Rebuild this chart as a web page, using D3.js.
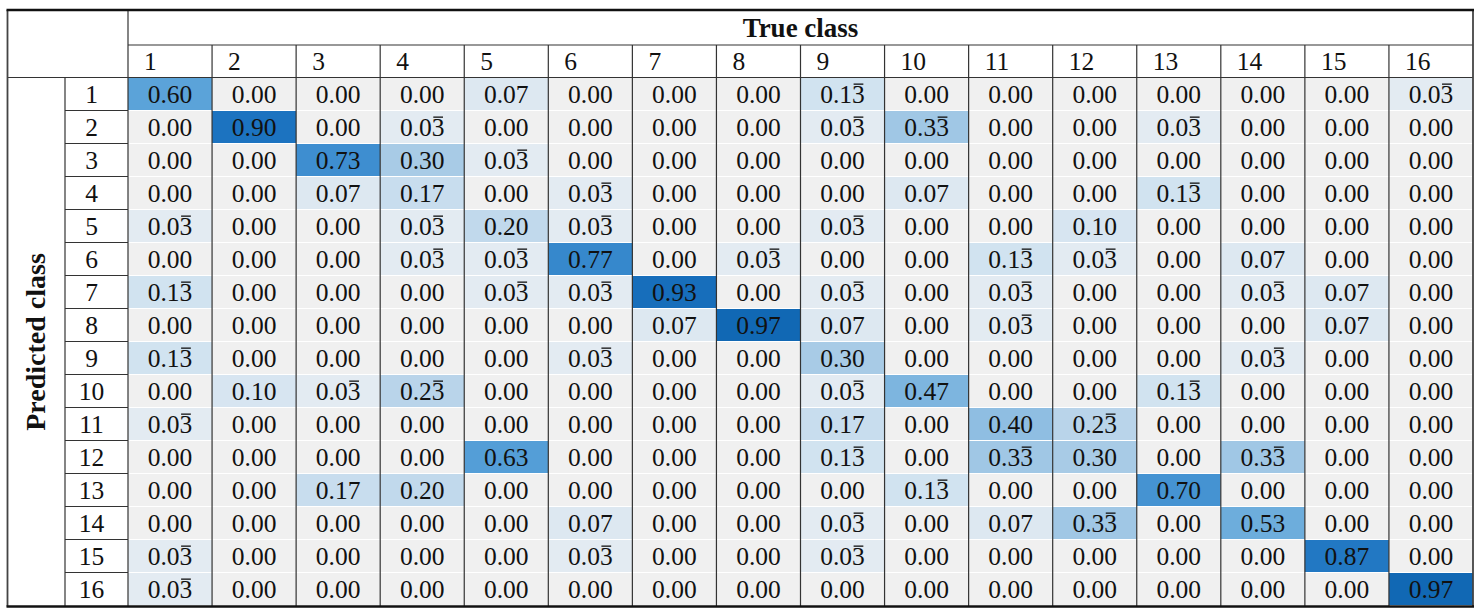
<!DOCTYPE html>
<html><head><meta charset="utf-8">
<script src="https://cdn.jsdelivr.net/npm/d3@7"></script>
<style>body{margin:0;background:#fff}</style>
</head><body>
<svg id="c" width="1479" height="613"></svg>
<script>
const classLabels = ["1","2","3","4","5","6","7","8","9","10","11","12","13","14","15","16"];
const xTitle = "True class";
const yTitle = "Predicted class";
// rows = predicted class, columns = true class; x.xx3 marks a repeating 3 (shown with an overbar)
const row1  = [0.60,0,0,0,0.07,0,0,0,0.133,0,0,0,0,0,0,0.033];
const row2  = [0,0.90,0,0.033,0,0,0,0,0.033,0.333,0,0,0.033,0,0,0];
const row3  = [0,0,0.73,0.30,0.033,0,0,0,0,0,0,0,0,0,0,0];
const row4  = [0,0,0.07,0.17,0,0.033,0,0,0,0.07,0,0,0.133,0,0,0];
const row5  = [0.033,0,0,0.033,0.20,0.033,0,0,0.033,0,0,0.10,0,0,0,0];
const row6  = [0,0,0,0.033,0.033,0.77,0,0.033,0,0,0.133,0.033,0,0.07,0,0];
const row7  = [0.133,0,0,0,0.033,0.033,0.93,0,0.033,0,0.033,0,0,0.033,0.07,0];
const row8  = [0,0,0,0,0,0,0.07,0.97,0.07,0,0.033,0,0,0,0.07,0];
const row9  = [0.133,0,0,0,0,0.033,0,0,0.30,0,0,0,0,0.033,0,0];
const row10 = [0,0.10,0.033,0.233,0,0,0,0,0.033,0.47,0,0,0.133,0,0,0];
const row11 = [0.033,0,0,0,0,0,0,0,0.17,0,0.40,0.233,0,0,0,0];
const row12 = [0,0,0,0,0.63,0,0,0,0.133,0,0.333,0.30,0,0.333,0,0];
const row13 = [0,0,0.17,0.20,0,0,0,0,0,0.133,0,0,0.70,0,0,0];
const row14 = [0,0,0,0,0,0.07,0,0,0.033,0,0.07,0.333,0,0.53,0,0];
const row15 = [0.033,0,0,0,0,0.033,0,0,0.033,0,0,0,0,0,0.87,0];
const row16 = [0.033,0,0,0,0,0,0,0,0,0,0,0,0,0,0,0.97];
const matrix = [row1,row2,row3,row4,row5,row6,row7,row8,row9,row10,row11,row12,row13,row14,row15,row16];
const colorStops = [0, 0.033, 0.13, 0.3, 0.47, 0.6, 0.73, 0.9, 0.97];
const colorRange = ["#f0f0f0","#e3ebf2","#d2e3f0","#a8cbe6","#7db5df","#5ba3d9","#3e8ed0","#1c73c0","#1168b4"];

const svg = d3.select("#c");
const font = "'Liberation Serif', 'DejaVu Serif', serif";
const L = 7.5, R = 1473, T = 10, B = 606.5, xL = 128, yH = 45, yD = 77.5, xR = 65;
const fs = 25.5;

const x = d3.scaleBand().domain(classLabels).range([xL, R]);
const y = d3.scaleBand().domain(classLabels).range([yD, B - 1]);
const color = d3.scaleLinear().domain(colorStops).range(colorRange).clamp(true);
const isRep = v => Math.round(v * 1000) % 10 === 3;

const cells = [];
matrix.forEach((row, i) => row.forEach((v, j) => cells.push({r: classLabels[i], c: classLabels[j], v})));

// cells
svg.append("g").selectAll("rect").data(cells).join("rect")
  .attr("x", d => x(d.c)).attr("y", d => y(d.r) + 0.5)
  .attr("width", x.bandwidth()).attr("height", y.bandwidth() - 1)
  .attr("fill", d => color(d.v));

const txt = svg.append("g").selectAll("text").data(cells).join("text")
  .attr("x", d => x(d.c) + x.bandwidth() / 2)
  .attr("y", d => y(d.r) + y.bandwidth() / 2 + 8.5)
  .attr("text-anchor", "middle")
  .attr("font-family", font).attr("font-size", fs).attr("fill", "#111")
  .text(d => d.v.toFixed(2));

// overbars for repeating decimals
const bars = svg.append("g").attr("stroke", "#111").attr("stroke-width", 1.3);
txt.each(function(d) {
  if (!isRep(d.v)) return;
  const n = this.getNumberOfChars();
  const s = this.getStartPositionOfChar(n - 1), e = this.getEndPositionOfChar(n - 1);
  const by = y(d.r) + y.bandwidth() / 2 + 8.5 - fs * 0.72;
  bars.append("line").attr("x1", s.x + 1.5).attr("x2", e.x - 1.5).attr("y1", by).attr("y2", by);
});

// column labels
svg.append("g").selectAll("text").data(classLabels).join("text")
  .attr("x", d => x(d) + 16)
  .attr("y", (yH + yD) / 2 + 8.5)
  .attr("font-family", font).attr("font-size", fs).attr("fill", "#111")
  .text(d => d);

// row labels
svg.append("g").selectAll("text").data(classLabels).join("text")
  .attr("x", (xR + xL) / 2 - 5)
  .attr("y", d => y(d) + y.bandwidth() / 2 + 8.5)
  .attr("text-anchor", "middle")
  .attr("font-family", font).attr("font-size", fs).attr("fill", "#111")
  .text(d => d);

// titles
svg.append("text").attr("x", (xL + R) / 2).attr("y", (T + yH) / 2 + 9.5)
  .attr("text-anchor", "middle").attr("font-family", font).attr("font-weight", "bold")
  .attr("font-size", 27).attr("fill", "#111").text(xTitle);
svg.append("text")
  .attr("transform", `translate(${(L + xR) / 2 + 9},${(yD + B) / 2}) rotate(-90)`)
  .attr("text-anchor", "middle").attr("font-family", font).attr("font-weight", "bold")
  .attr("font-size", 28).attr("fill", "#111").text(yTitle);

// grid lines
const g = svg.append("g").attr("stroke", "#333").attr("stroke-width", 1.2).attr("fill", "none");
const line = (x1, y1, x2, y2) => g.append("line").attr("x1", x1).attr("y1", y1).attr("x2", x2).attr("y2", y2);
line(xL, yH, R, yH);
line(L, yD, R, yD);
line(xL, T, xL, B);
line(xR, yD, xR, B);
classLabels.slice(1).forEach(d => line(x(d), yH, x(d), B));
classLabels.slice(1).forEach(d => line(xR, y(d), xL, y(d)));
// outer border
line(L, T, L, B).attr("stroke-width", 1.8).attr("stroke", "#444");
line(R, T, R, B).attr("stroke-width", 1.8).attr("stroke", "#444");
line(L - 1, T, R + 1, T).attr("stroke-width", 2.6).attr("stroke", "#111");
line(L - 1, B, R + 1, B).attr("stroke-width", 2.6).attr("stroke", "#111");
</script>
</body></html>
